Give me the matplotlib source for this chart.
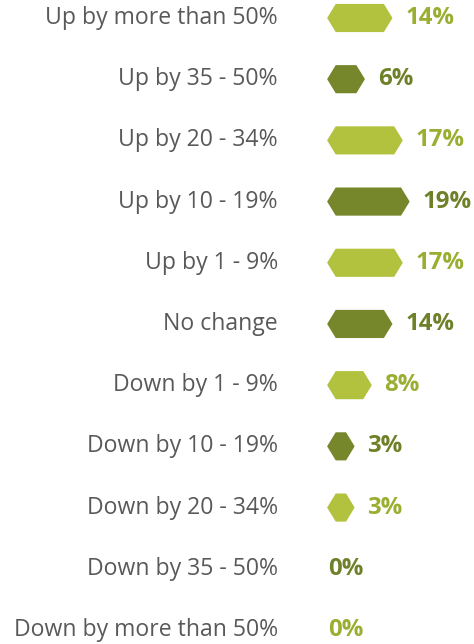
import matplotlib.pyplot as plt
from matplotlib.patches import Polygon

categories = ['Up by more than 50%', 'Up by 35 - 50%', 'Up by 20 - 34%', 'Up by 10 - 19%',
              'Up by 1 - 9%', 'No change', 'Down by 1 - 9%', 'Down by 10 - 19%',
              'Down by 20 - 34%', 'Down by 35 - 50%', 'Down by more than 50%']
values = [14, 6, 17, 19, 17, 14, 8, 3, 3, 0, 0]

light, dark = '#b3c23e', '#76872b'
light_txt, dark_txt = '#9aae32', '#6f8128'

fig = plt.figure(figsize=(4.74, 6.44), dpi=100)
ax = fig.add_axes([0, 0, 1, 1])
ax.set_xlim(-95.1, 42.7)
ax.set_ylim(10.23, -0.294)
ax.axis('off')

tip = 2.5   # pointed ends, in % units
h = 0.46    # bar thickness in row units

for i, (cat, v) in enumerate(zip(categories, values)):
    col = light if i % 2 == 0 else dark
    tcol = light_txt if i % 2 == 0 else dark_txt
    if v > 0:
        pts = [(0, i), (tip, i - h / 2), (tip + v, i - h / 2), (2 * tip + v, i),
               (tip + v, i + h / 2), (tip, i + h / 2)]
        ax.add_patch(Polygon(pts, closed=True, facecolor=col, edgecolor='none'))
        xt = 2 * tip + v + 3.7
    else:
        xt = 0.2
    ax.text(xt, i, f'{v}%', ha='left', va='center', fontsize=17.3,
            fontweight='bold', color=tcol, family='Open Sans')
    ax.text(-14.3, i, cat, ha='right', va='center', fontsize=16.6,
            color='#595959', family='Open Sans')

plt.savefig('out.png', dpi=100)
